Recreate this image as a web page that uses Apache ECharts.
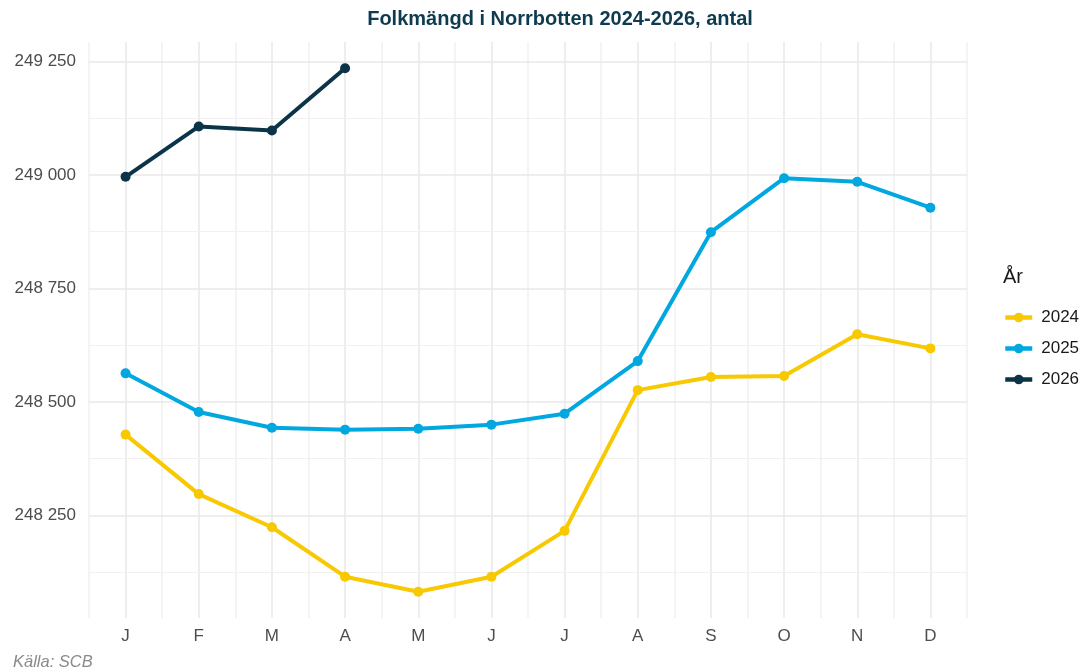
<!DOCTYPE html>
<html>
<head>
<meta charset="utf-8">
<script src="https://cdn.jsdelivr.net/npm/echarts@6/dist/echarts.min.js"></script>
<style>
  html, body { margin: 0; padding: 0; background: #fff; }
  #chart { width: 1088px; height: 671px; }
</style>
</head>
<body>
<div id="chart"></div>
<script>
const months = ['J', 'F', 'M', 'A', 'M', 'J', 'J', 'A', 'S', 'O', 'N', 'D'];
const pop2024 = [248428, 248297, 248224, 248115, 248082, 248115, 248216, 248526, 248555, 248557, 248649, 248618];
const pop2025 = [248563, 248478, 248443, 248439, 248441, 248450, 248474, 248590, 248874, 248993, 248985, 248928];
const pop2026 = [248996, 249107, 249098, 249235];
const yTicks = [248250, 248500, 248750, 249000, 249250];
const yMinorTicks = [248125, 248375, 248625, 248875, 249125];

const chart = echarts.init(document.getElementById('chart'));

function toPoints(arr) {
    return arr.map((v, i) => [i + 1, v]);
}

function lineSeries(name, data, color) {
    return {
        name: name,
        type: 'line',
        data: toPoints(data),
        symbol: 'circle',
        symbolSize: 10,
        lineStyle: { width: 4, color: color },
        itemStyle: { color: color },
        z: 5
    };
}

const gridLines = [];
yMinorTicks.forEach(v => gridLines.push({ yAxis: v, lineStyle: { color: '#f1f1f1', width: 1, type: 'solid' } }));
yTicks.forEach(v => gridLines.push({ yAxis: v, lineStyle: { color: '#e8e8e8', width: 1.5, type: 'solid' } }));

const option = {
    animation: false,
    textStyle: { fontFamily: 'Liberation Sans, Arial, sans-serif' },
    title: [
        {
            text: 'Folkmängd i Norrbotten 2024-2026, antal',
            left: 555, top: 4, textAlign: 'center',
            textStyle: { fontSize: 20, fontWeight: 'bold', color: '#0e3b50' }
        },
        {
            text: 'År',
            left: 998, top: 262,
            textStyle: { fontSize: 20, fontWeight: 'normal', color: '#1a1a1a' }
        },
        {
            text: 'Källa: SCB',
            left: 8, top: 649,
            textStyle: { fontSize: 16.5, fontWeight: 'normal', fontStyle: 'italic', color: '#8a8a8a' }
        }
    ],
    legend: {
        orient: 'vertical',
        left: 998, top: 304,
        itemWidth: 27, itemHeight: 12, itemGap: 14,
        lineStyle: { width: 4.5 },
        textStyle: { fontSize: 17, color: '#1a1a1a', padding: [0, 0, 0, 4] },
        data: ['2024', '2025', '2026']
    },
    grid: { left: 89, right: 121, top: 42, bottom: 53 },
    xAxis: {
        type: 'value',
        min: 0.5, max: 12.5, interval: 0.5,
        axisLine: { show: false },
        axisTick: { show: false },
        axisLabel: {
            fontSize: 17, color: '#4d4d4d', margin: 10,
            formatter: v => Number.isInteger(v) ? months[v - 1] : ''
        },
        splitLine: { show: true, lineStyle: { color: ['#f1f1f1', '#e8e8e8'], width: 1.5 } }
    },
    yAxis: {
        type: 'value',
        min: 248024, max: 249293,
        axisLine: { show: false },
        axisTick: { show: false, customValues: yTicks },
        splitLine: { show: false },
        axisLabel: {
            customValues: yTicks,
            fontSize: 17, color: '#4d4d4d', margin: 13,
            formatter: v => String(v).replace(/\B(?=(\d{3})+(?!\d))/g, ' ')
        }
    },
    series: [
        {
            type: 'line', data: [], silent: true,
            markLine: { silent: true, symbol: 'none', label: { show: false }, data: gridLines }
        },
        lineSeries('2024', pop2024, '#f8c800'),
        lineSeries('2025', pop2025, '#00a8df'),
        lineSeries('2026', pop2026, '#0b3449')
    ]
};
chart.setOption(option);
window.addEventListener('resize', () => chart.resize());
</script>
</body>
</html>
